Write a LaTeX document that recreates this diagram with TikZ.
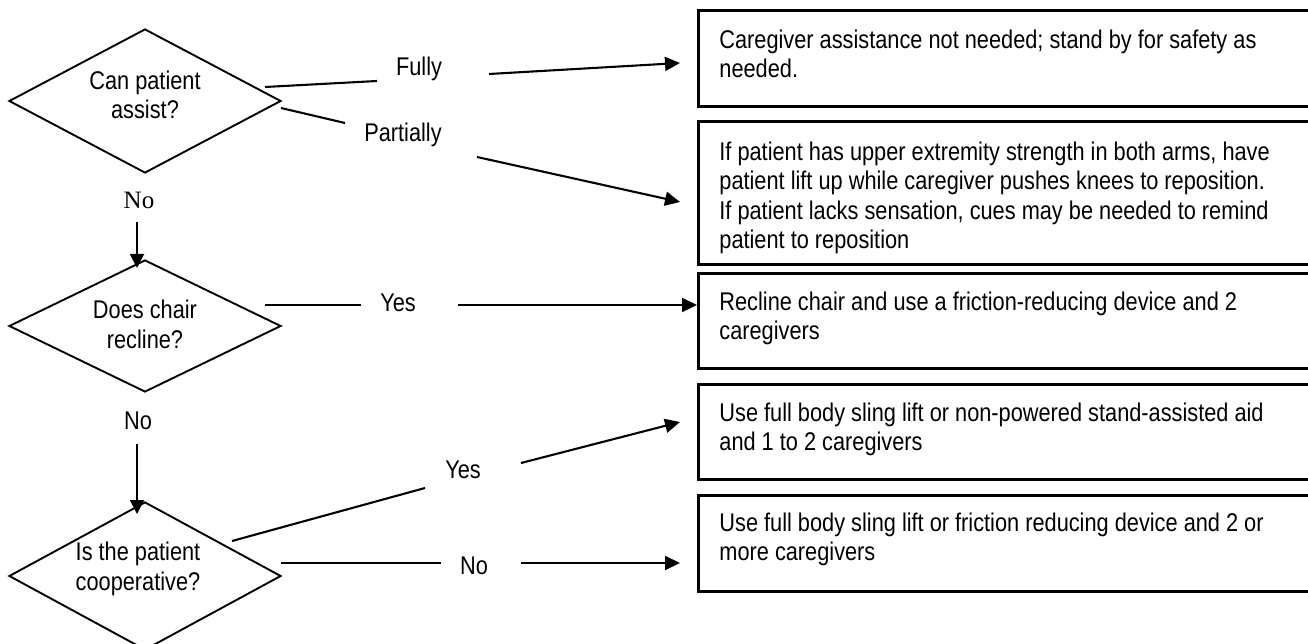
\documentclass[tikz,border=0pt]{standalone}
\usepackage{fontspec}
\setmainfont{Liberation Sans}[FakeStretch=0.85]
\newfontfamily\noserif{Liberation Serif}
\usetikzlibrary{shapes.geometric,arrows.meta}
% body of an action box: total height, first baseline offset, text
\newcommand\boxbody[3]{\parbox[b][#1][t]{600pt}{\raggedright\rule{0pt}{#2}#3}}

\begin{document}
\begin{tikzpicture}[x=1pt,y=-1pt,
  txt/.style={font=\fontsize{25.6pt}{29.5pt}\selectfont, inner sep=0pt, align=center},
  serifno/.style={font=\noserif\fontsize{25pt}{30pt}\selectfont, inner sep=0pt},
  decision/.style={diamond, draw, line width=1.9pt, minimum width=272pt, inner sep=0pt},
  infobox/.style={draw, line width=2.8pt, anchor=north west, inner xsep=21pt, inner ysep=0pt,
                  font=\fontsize{25.6pt}{29.5pt}\selectfont},
  conn/.style={line width=2.1pt},
  arrow/.style={conn, -{Triangle[length=15pt,width=14pt]}},
  downarrow/.style={line width=1.9pt, -{Triangle[length=14pt,width=14pt]}}]

\useasboundingbox (0,0) rectangle (1308,644);
\clip (0,0) rectangle (1308,644);

% decisions
\node[decision, minimum height=144pt] (d1) at (145,101) {};
\node[txt] (d1t) at (145,95) {Can patient\\assist?};
\node[decision, minimum height=132pt] (d2) at (145,326) {};
\node[txt] (d2t) at (145,324.5) {Does chair\\recline?};
\node[decision, minimum height=148pt] (d3) at (145,576) {};
\node[txt] (d3t) at (138,569) {Is the patient\\cooperative?};

% action boxes (they run off the right edge)
\node[infobox] (b1) at (697,9)
  {\boxbody{96pt}{38pt}{Caregiver assistance not needed; stand by for safety as\\needed.}};
\node[infobox] (b2) at (697,120)
  {\boxbody{143pt}{39pt}{If patient has upper extremity strength in both arms, have\\
   patient lift up while caregiver pushes knees to reposition.\\
   If patient lacks sensation, cues may be needed to remind\\
   patient to reposition}};
\node[infobox] (b3) at (697,272)
  {\boxbody{95pt}{37pt}{Recline chair and use a friction-reducing device and 2\\caregivers}};
\node[infobox] (b4) at (697,383)
  {\boxbody{95pt}{37pt}{Use full body sling lift or non-powered stand-assisted aid\\and 1 to 2 caregivers}};
\node[infobox] (b5) at (697,494)
  {\boxbody{96pt}{36pt}{Use full body sling lift or friction reducing device and 2 or\\more caregivers}};

% branch labels
\node[serifno] (n1) at (139,200) {No};
\node[txt] (n2) at (138,421) {No};
\node[txt] (lfully) at (419,69) {Fully};
\node[txt] (lpart) at (403,135) {Partially};
\node[txt] (lyes1) at (398,303) {Yes};
\node[txt] (lyes2) at (463,470) {Yes};
\node[txt] (lno2) at (474,566) {No};

% connector break points
\coordinate (fa) at (265,87);   \coordinate (fb) at (377,81);
\coordinate (fc) at (489,74);   \coordinate (fd) at (680,63);
\coordinate (pa) at (281,108);  \coordinate (pb) at (345,123);
\coordinate (pc) at (477,157);  \coordinate (pd) at (680,202);
\coordinate (ya) at (265,305);  \coordinate (yb) at (361,305);
\coordinate (yc) at (458,305);
\coordinate (ca) at (232,541);  \coordinate (cb) at (425,488);
\coordinate (cc) at (521,463);  \coordinate (cd) at (680,422);
\coordinate (ka) at (281,563);  \coordinate (kb) at (441,563);
\coordinate (kc) at (521,563);  \coordinate (kd) at (680,563);
\coordinate (v1a) at (137,222); \coordinate (v1b) at (137,268);
\coordinate (v2a) at (137,444); \coordinate (v2b) at (137,514);

% connectors
\draw[conn] (fa) -- (fb);  \draw[arrow] (fc) -- (fd);
\draw[conn] (pa) -- (pb);  \draw[arrow] (pc) -- (pd);
\draw[conn] (ya) -- (yb);  \draw[arrow] (yc) -- (b3.west |- yc);
\draw[conn] (ca) -- (cb);  \draw[arrow] (cc) -- (cd);
\draw[conn] (ka) -- (kb);  \draw[arrow] (kc) -- (kd);
\draw[downarrow] (v1a) -- (v1b);
\draw[downarrow] (v2a) -- (v2b);
\end{tikzpicture}
\end{document}
